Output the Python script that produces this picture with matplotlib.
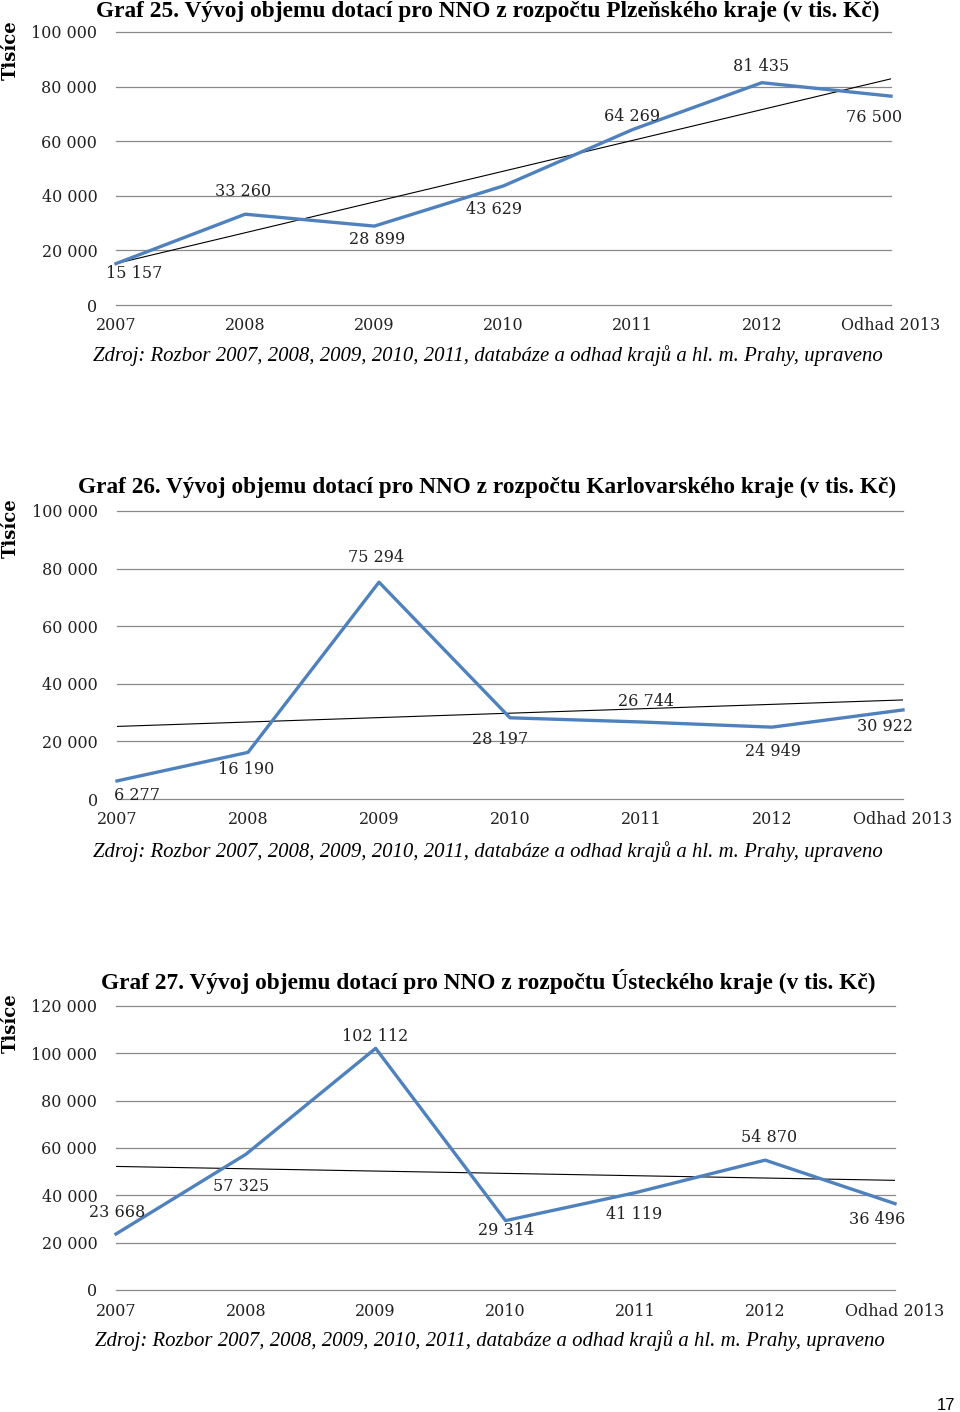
import matplotlib
matplotlib.use("Agg")
import matplotlib.pyplot as plt
import numpy as np

# ---------------- data ----------------
categories = ["2007", "2008", "2009", "2010", "2011", "2012", "Odhad 2013"]

plzen_values = [15157, 33260, 28899, 43629, 64269, 81435, 76500]
karlovy_values = [6277, 16190, 75294, 28197, 26744, 24949, 30922]
usti_values = [23668, 57325, 102112, 29314, 41119, 54870, 36496]

plzen_ticks = [0, 20000, 40000, 60000, 80000, 100000]
karlovy_ticks = [0, 20000, 40000, 60000, 80000, 100000]
usti_ticks = [0, 20000, 40000, 60000, 80000, 100000, 120000]

titles = [
    "Graf 25. Vývoj objemu dotací pro NNO z rozpočtu Plzeňského kraje (v tis. Kč)",
    "Graf 26. Vývoj objemu dotací pro NNO z rozpočtu Karlovarského kraje (v tis. Kč)",
    "Graf 27. Vývoj objemu dotací pro NNO z rozpočtu Ústeckého kraje (v tis. Kč)",
]
source_text = "Zdroj: Rozbor 2007, 2008, 2009, 2010, 2011, databáze a odhad krajů a hl. m. Prahy, upraveno"
ylabel_text = "Tisíce"
page_number = "17"

# ---------------- layout / style ----------------
W, H = 960, 1412
DPI = 100
LINE_BLUE = "#4f81bd"
GRID = "#8a8a8a"
SERIF = ["DejaVu Serif"]
TITLE_FONT = ["Liberation Serif"]
TICK_FS = 11.5

fig = plt.figure(figsize=(W / DPI, H / DPI), dpi=DPI)
fig.patch.set_facecolor("white")


def fx(px):
    return px / W


def fy(py):
    return 1 - py / H


def fmt(v):
    return f"{int(round(v)):,}".replace(",", " ")


# label offsets (pixels: dx, dy downward positive)
plzen_off = [(18, 10), (-2, -23), (3, 13), (-9, 24), (-1, -13), (-1, -16), (-17, 21)]
karlovy_off = [(20, 15), (-2, 17), (-3, -25), (-10, 22), (5, -20), (1, 24), (-18, 17)]
usti_off = [(1, -21), (-5, 32), (-1, -12), (1, 10), (-1, 22), (4, -23), (-18, 16)]

charts = [
    dict(values=plzen_values, ticks=plzen_ticks, box=(116, 891, 32, 305),
         offs=plzen_off, title=titles[0], title_x=(96, 884), title_y=11,
         src_x=(93, 885), src_y=356, ylab_y=50),
    dict(values=karlovy_values, ticks=karlovy_ticks, box=(117, 903, 511, 799),
         offs=karlovy_off, title=titles[1], title_x=(78, 900), title_y=487,
         src_x=(93, 885), src_y=852, ylab_y=528),
    dict(values=usti_values, ticks=usti_ticks, box=(116, 895, 1006, 1290),
         offs=usti_off, title=titles[2], title_x=(101, 878), title_y=982,
         src_x=(95, 887), src_y=1341, ylab_y=1023),
]

renderer = fig.canvas.get_renderer()


def fit_text(t, width_px):
    bb = t.get_window_extent(renderer=renderer)
    t.set_fontsize(t.get_fontsize() * width_px / bb.width)


for c in charts:
    x0, x1, y0, y1 = c["box"]
    ax = fig.add_axes([fx(x0), fy(y1), (x1 - x0) / W, (y1 - y0) / H])
    vals = np.array(c["values"], dtype=float)
    xs = np.arange(len(categories))

    ax.set_xlim(0, len(categories) - 1)
    ax.set_ylim(c["ticks"][0], c["ticks"][-1])
    ax.set_yticks(c["ticks"])
    ax.set_yticklabels([fmt(t) for t in c["ticks"]], fontfamily=SERIF,
                       fontsize=TICK_FS)
    ax.set_xticks(xs)
    ax.set_xticklabels(categories, fontfamily=SERIF, fontsize=TICK_FS)
    ax.tick_params(axis="both", length=0, colors="#222222")
    ax.tick_params(axis="y", pad=13.5)
    ax.tick_params(axis="x", pad=9)
    for s in ax.spines.values():
        s.set_visible(False)
    ax.patch.set_alpha(0)

    # gridlines (drawn unclipped so the edge lines are full width)
    for tv in c["ticks"]:
        ax.axhline(tv, color=GRID, linewidth=0.9, zorder=1, clip_on=False)

    # linear trend
    k, q = np.polyfit(xs, vals, 1)
    ax.plot(xs, k * xs + q, color="black", linewidth=0.8, zorder=3)
    # series
    ax.plot(xs, vals, color=LINE_BLUE, linewidth=2.4, zorder=4,
            solid_joinstyle="round", clip_on=False)

    for xi, v, (dx, dy) in zip(xs, vals, c["offs"]):
        ax.annotate(fmt(v), (xi, v), xytext=(dx * 0.72, -dy * 0.72),
                    textcoords="offset points", ha="center", va="center",
                    fontfamily=SERIF, fontsize=TICK_FS, color="#222222",
                    annotation_clip=False, zorder=5)

    # title
    t = fig.text(fx(c["title_x"][0]), fy(c["title_y"]), c["title"],
                 ha="left", va="center", fontfamily=TITLE_FONT,
                 fontweight="bold", fontsize=14, color="black")
    fit_text(t, c["title_x"][1] - c["title_x"][0])

    # source
    s = fig.text(fx(c["src_x"][0]), fy(c["src_y"]), source_text,
                 ha="left", va="center", fontfamily=["Liberation Serif"],
                 fontstyle="italic", fontsize=14, color="black")
    fit_text(s, c["src_x"][1] - c["src_x"][0])

    # y label
    fig.text(fx(11), fy(c["ylab_y"]), ylabel_text, rotation=90, ha="center",
             va="center", fontfamily=SERIF, fontweight="bold", fontsize=13,
             color="black")

fig.text(fx(946), fy(1405), page_number, ha="center", va="center",
         fontfamily=["Liberation Sans"], fontsize=12, color="black")

fig.savefig("out.png", dpi=DPI)
